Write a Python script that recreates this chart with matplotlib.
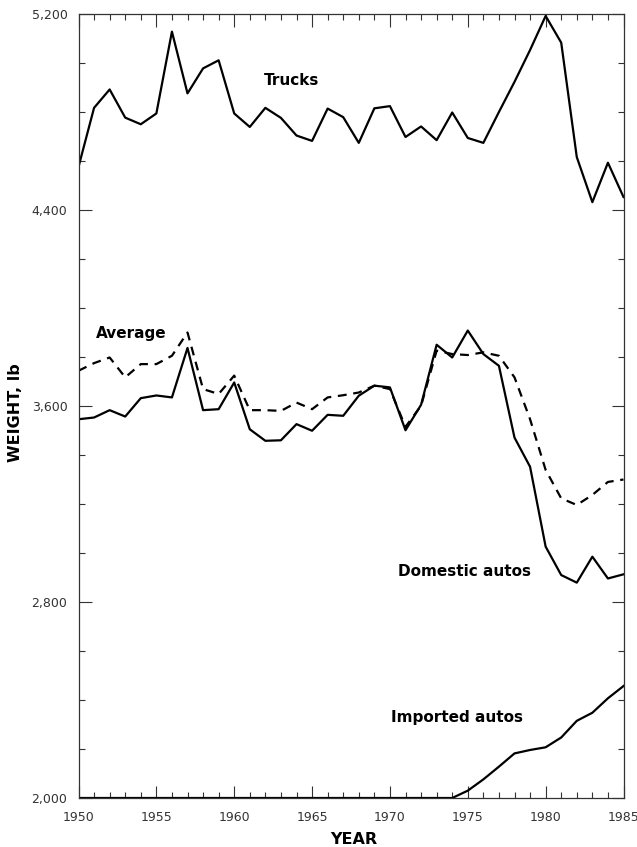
import numpy as np
import matplotlib
matplotlib.use('Agg')
import matplotlib.pyplot as plt
from matplotlib.ticker import MultipleLocator, FuncFormatter

# years 1950-1985
years = list(range(1950, 1986))

# vehicle weights, lb
trucks = [4576, 4817, 4892, 4777, 4750, 4794, 5128, 4876, 4978, 5011,
          4794, 4739, 4817, 4776, 4704, 4682, 4814, 4779, 4674, 4815,
          4824, 4698, 4741, 4685, 4798, 4694, 4674, 4800, 4923, 5053,
          5192, 5083, 4616, 4432, 4593, 4453]

domestic = [3546, 3553, 3583, 3557, 3632, 3643, 3635, 3837, 3583, 3587,
            3696, 3505, 3458, 3460, 3526, 3499, 3564, 3560, 3642, 3683,
            3676, 3501, 3605, 3850, 3798, 3908, 3812, 3764, 3471, 3352,
            3026, 2910, 2879, 2985, 2896, 2913]

average = [3744, 3775, 3798, 3717, 3771, 3771, 3805, 3900, 3669, 3649,
           3724, 3583, 3583, 3580, 3614, 3587, 3635, 3644, 3655, 3683,
           3669, 3515, 3601, 3826, 3812, 3808, 3819, 3805, 3717, 3546,
           3339, 3223, 3196, 3237, 3290, 3300]

imported = [2000] * 25 + [2030, 2076, 2128, 2182, 2196, 2207, 2247,
                          2315, 2348, 2407, 2457]

ytick_vals = [2000, 2800, 3600, 4400, 5200]
xtick_vals = [1950, 1955, 1960, 1965, 1970, 1975, 1980, 1985]

plt.rcParams['font.family'] = ['DejaVu Sans']

fig = plt.figure(figsize=(6.37, 8.47), dpi=100)
ax = fig.add_axes([78.5 / 637, 49 / 847, 545 / 637, 784 / 847])

lw = 1.6
ax.plot(years, trucks, color='black', lw=lw)
ax.plot(years, domestic, color='black', lw=lw)
ax.plot(years, average, color='black', lw=lw, linestyle=(0, (4, 3)))
ax.plot(years, imported, color='black', lw=lw)

ax.set_xlim(1950, 1985)
ax.set_ylim(2000, 5200)

ax.set_xticks(xtick_vals)
ax.xaxis.set_minor_locator(MultipleLocator(1))
ax.set_yticks(ytick_vals)
ax.yaxis.set_minor_locator(MultipleLocator(200))
ax.yaxis.set_major_formatter(FuncFormatter(lambda v, p: '{:,.0f}'.format(v)))

ax.tick_params(which='both', direction='in', top=True, right=True,
               color='#333333', labelcolor='#333333', labelsize=9)
ax.tick_params(which='major', length=9, width=0.8)
ax.tick_params(which='minor', length=4.5, width=0.8)
ax.tick_params(axis='y', which='major', pad=8)
ax.tick_params(axis='x', which='major', pad=9)

for s in ax.spines.values():
    s.set_color('#333333')
    s.set_linewidth(0.9)

# series labels
lab = dict(fontsize=11, fontweight='bold', va='center', ha='left')
ax.text(1961.9, 4930, 'Trucks', **lab)
ax.text(1951.1, 3894, 'Average', **lab)
ax.text(1970.5, 2924, 'Domestic autos', **lab)
ax.text(1970.1, 2329, 'Imported autos', **lab)

fig.text(15 / 637, 1 - 413 / 847, 'WEIGHT, lb', rotation=90,
         ha='center', va='center', fontsize=11.5, fontweight='bold')
fig.text(354 / 637, 1 - 839 / 847, 'YEAR', ha='center', va='center',
         fontsize=11.5, fontweight='bold')

fig.savefig('out.png', dpi=100)
